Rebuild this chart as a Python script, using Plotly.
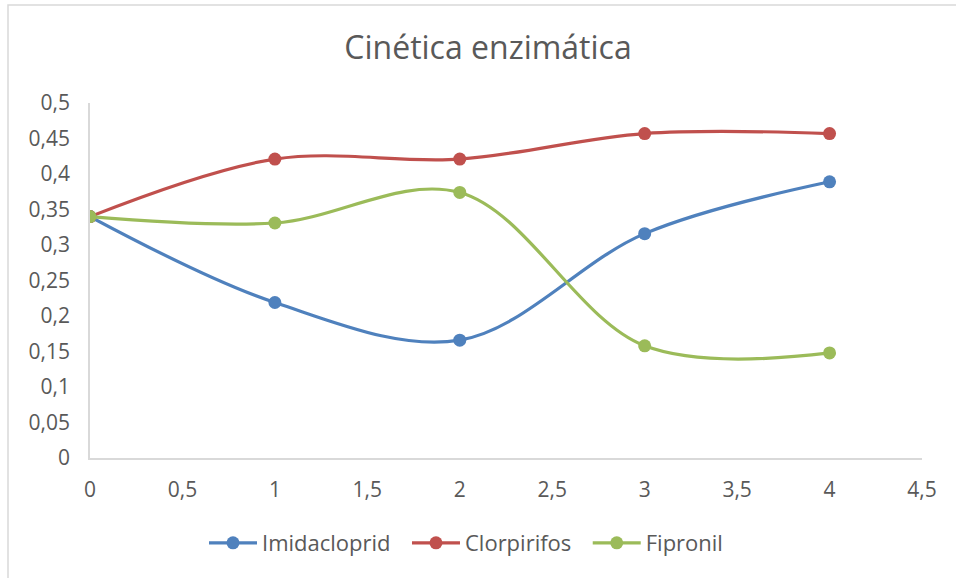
import plotly.graph_objects as go

# Enzyme kinetics data
tiempo = [0, 1, 2, 3, 4]
imidacloprid = [0.34, 0.219, 0.166, 0.316, 0.389]
clorpirifos = [0.34, 0.421, 0.421, 0.457, 0.457]
fipronil = [0.34, 0.331, 0.374, 0.158, 0.148]

series = [
    ("Imidacloprid", imidacloprid, "#4F81BD"),
    ("Clorpirifos", clorpirifos, "#C0504D"),
    ("Fipronil", fipronil, "#9BBB59"),
]

x_ticks = [0, 0.5, 1, 1.5, 2, 2.5, 3, 3.5, 4, 4.5]
y_ticks = [0, 0.05, 0.1, 0.15, 0.2, 0.25, 0.3, 0.35, 0.4, 0.45, 0.5]


def coma(v):
    s = f"{v:g}"
    return s.replace(".", ",")


fig = go.Figure()
for name, vals, color in series:
    fig.add_trace(go.Scatter(
        x=tiempo, y=vals, name=name + "  ", mode="lines+markers",
        line=dict(color=color, width=3.2, shape="spline", smoothing=1),
        marker=dict(color=color, size=13),
    ))

font_family = "Open Sans, Noto Sans, sans-serif"
fig.update_layout(
    width=956, height=578,
    margin=dict(l=90, r=34, t=103, b=120),
    paper_bgcolor="white", plot_bgcolor="white",
    title=dict(text="Cinética enzimática", x=488 / 956,
               xanchor="center", xref="container",
               y=1 - 48 / 578, yanchor="middle",
               font=dict(family=font_family, size=32, color="#595959")),
    font=dict(family=font_family, color="#595959", size=21),
    xaxis=dict(range=[0, 4.5], tickvals=x_ticks,
               ticktext=[coma(v) for v in x_ticks],
               showgrid=False, zeroline=False, showline=True,
               linecolor="#D9D9D9", linewidth=1.5, ticks="", ticklen=0,
               tickfont=dict(size=21, color="#595959")),
    yaxis=dict(range=[0, 0.5], tickvals=y_ticks,
               ticktext=[coma(v) for v in y_ticks],
               showgrid=False, zeroline=False, showline=True,
               linecolor="#D9D9D9", linewidth=1.5, ticks="outside",
               ticklen=14, tickcolor="rgba(0,0,0,0)",
               tickfont=dict(size=21, color="#595959")),
    legend=dict(orientation="h", x=(472 - 90) / 832, xanchor="center",
                y=-(543 - 458) / 355, yanchor="middle",
                font=dict(size=22, color="#595959"),
                itemwidth=48, tracegroupgap=0),
    showlegend=True,
)
fig.update_xaxes(ticklabelstandoff=12)

# Chart frame
fig.add_shape(type="rect", xref="paper", yref="paper",
              x0=(8 - 90) / 832, x1=(990 - 90) / 832,
              y0=-(620 - 458) / 355, y1=1 + (103 - 5) / 355,
              line=dict(color="#D9D9D9", width=1.5), layer="below")

fig.write_html("out.html")
